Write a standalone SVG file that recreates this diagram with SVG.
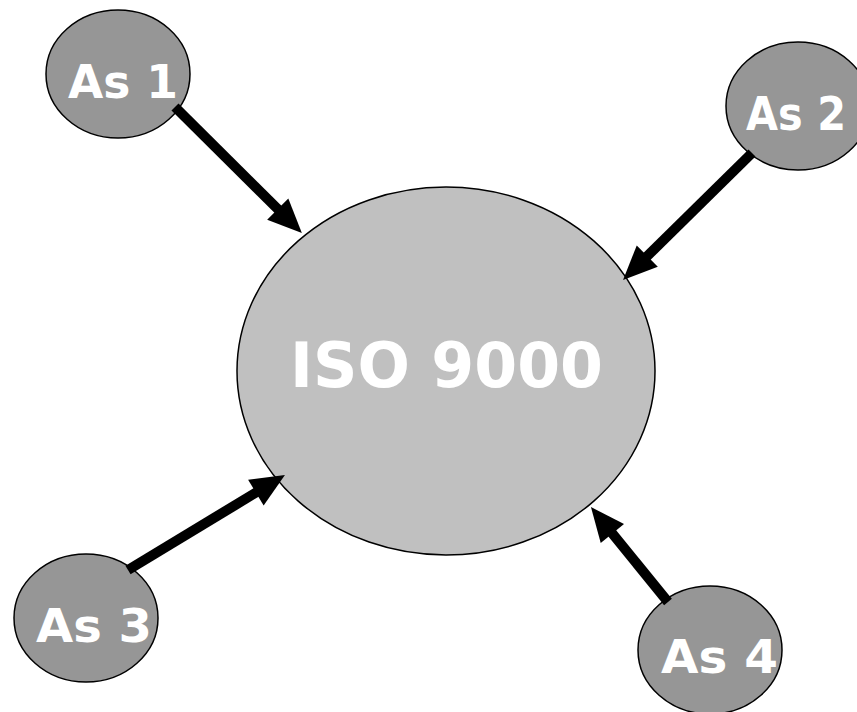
<svg xmlns="http://www.w3.org/2000/svg" width="857" height="712" viewBox="0 0 857 712">
<style>
.small{fill:#969696;stroke:#000;stroke-width:1.5}
.big{fill:#c0c0c0;stroke:#000;stroke-width:1.5}
.lbl{fill:#fff;font-family:"DejaVu Sans","Liberation Sans",sans-serif;font-weight:bold}
.s{font-size:46px}
.b{font-size:62px}
.conn{stroke:#000;stroke-width:10;fill:none;marker-end:url(#ah)}
</style>
<defs>
<marker id="ah" markerUnits="userSpaceOnUse" markerWidth="34" markerHeight="30" refX="6" refY="15" orient="auto" overflow="visible">
<path d="M0,0 L34,15 L0,30 Z" fill="#000"/>
</marker>
</defs>
<rect width="857" height="712" fill="#fff"/>
<g id="iso9000">
<ellipse class="big" cx="446" cy="371" rx="209" ry="184"/>
<text class="lbl b" x="290" y="387" textLength="313" lengthAdjust="spacingAndGlyphs">ISO 9000</text>
</g>
<g id="as1">
<ellipse class="small" cx="118" cy="74" rx="72" ry="64"/>
<text class="lbl s" x="68" y="98" textLength="110" lengthAdjust="spacingAndGlyphs">As 1</text>
</g>
<g id="as2">
<ellipse class="small" cx="798" cy="106" rx="72" ry="64"/>
<text class="lbl s" x="746" y="130" textLength="100" lengthAdjust="spacingAndGlyphs">As 2</text>
</g>
<g id="as3">
<ellipse class="small" cx="86" cy="618" rx="72" ry="64"/>
<text class="lbl s" x="36" y="642" textLength="116" lengthAdjust="spacingAndGlyphs">As 3</text>
</g>
<g id="as4">
<ellipse class="small" cx="710" cy="650" rx="72" ry="64"/>
<text class="lbl s" x="661" y="673" textLength="117" lengthAdjust="spacingAndGlyphs">As 4</text>
</g>
<g id="connectors">
<line class="conn" x1="175" y1="107" x2="282" y2="213.3"/>
<line class="conn" x1="752" y1="153" x2="643" y2="260.3"/>
<line class="conn" x1="128" y1="570" x2="261" y2="489.5"/>
<line class="conn" x1="668" y1="602" x2="608.6" y2="528.8"/>
</g>
</svg>
